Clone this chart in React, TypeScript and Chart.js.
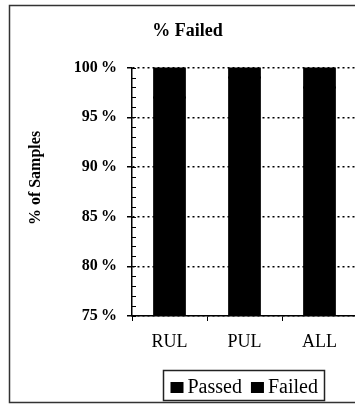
import React, { useEffect, useRef } from "react";
import { Chart, registerables } from "chart.js";

Chart.register(...registerables);

// Chart content
const chartTitle = "% Failed";
const yAxisTitle = "% of Samples";
const categories = ["RUL", "PUL", "ALL"];
const passedValues = [97, 99, 98];
const failedValues = [3, 1, 2];
const yTickValues = [75, 80, 85, 90, 95, 100];
const seriesNames = ["Passed", "Failed"];

const SERIF = '"Liberation Serif", "Times New Roman", Times, serif';
const CANVAS_W = 372;
const CANVAS_H = 406;

// Frame, minor ticks, rotated axis title and a boxed legend
const decorations = {
  id: "decorations",
  afterDraw(chart: any) {
    const { ctx, chartArea, scales } = chart;
    const y = scales.y;
    ctx.save();

    // outer frame
    ctx.strokeStyle = "#333";
    ctx.lineWidth = 1.5;
    ctx.beginPath();
    ctx.moveTo(CANVAS_W, 5.5);
    ctx.lineTo(9.5, 5.5);
    ctx.lineTo(9.5, 402.5);
    ctx.lineTo(CANVAS_W, 402.5);
    ctx.stroke();

    // minor ticks every 1% on the inside of the value axis
    ctx.strokeStyle = "#000";
    ctx.lineWidth = 1;
    ctx.beginPath();
    for (let v = y.min; v <= y.max; v += 1) {
      const py = Math.round(y.getPixelForValue(v)) + 0.5;
      ctx.moveTo(chartArea.left, py);
      ctx.lineTo(chartArea.left + 4, py);
    }
    ctx.stroke();

    // value axis title
    ctx.save();
    ctx.translate(36, 178);
    ctx.rotate(-Math.PI / 2);
    ctx.fillStyle = "#000";
    ctx.font = `bold 16px ${SERIF}`;
    ctx.textAlign = "center";
    ctx.textBaseline = "middle";
    ctx.fillText(yAxisTitle, 0, 0);
    ctx.restore();

    // legend
    ctx.font = `20px ${SERIF}`;
    const sw = 13;
    const swGap = 4;
    const itemGap = 9;
    const pad = 7;
    const items = chart.data.datasets.map((ds: any) => ({
      label: ds.label as string,
      color: ds.backgroundColor as string,
      w: sw + swGap + ctx.measureText(ds.label).width,
    }));
    const inner = items.reduce((a: number, it: any) => a + it.w, 0) + itemGap * (items.length - 1);
    const cx = (chartArea.left + chartArea.right) / 2 - 1;
    const boxL = Math.round(cx - inner / 2 - pad) + 0.5;
    const boxW = Math.round(inner + pad * 2);
    ctx.strokeStyle = "#222";
    ctx.lineWidth = 1.5;
    ctx.strokeRect(boxL, 370.5, boxW, 30);
    let x = boxL + pad;
    ctx.textAlign = "left";
    ctx.textBaseline = "alphabetic";
    for (const it of items) {
      ctx.fillStyle = it.color;
      ctx.fillRect(x, 382, sw, 11);
      ctx.fillStyle = "#000";
      ctx.fillText(it.label, x + sw + swGap, 393);
      x += it.w + itemGap;
    }
    ctx.restore();
  },
};

export default function App() {
  const canvasRef = useRef<HTMLCanvasElement | null>(null);

  useEffect(() => {
    if (!canvasRef.current) return;
    const barStyle = {
      backgroundColor: "#000",
      borderWidth: 0,
      inflateAmount: 1,
      barPercentage: 0.41,
      categoryPercentage: 1,
    };
    const chart = new Chart(canvasRef.current, {
      type: "bar",
      data: {
        labels: categories,
        datasets: [
          { label: seriesNames[0], data: passedValues, ...barStyle },
          { label: seriesNames[1], data: failedValues, ...barStyle },
        ],
      },
      options: {
        animation: false,
        responsive: false,
        maintainAspectRatio: false,
        layout: { padding: { left: 18, right: CANVAS_W - 357, top: 0, bottom: CANVAS_H - 316 - 37 } },
        plugins: {
          legend: { display: false },
          tooltip: { enabled: false },
          title: {
            display: true,
            text: chartTitle,
            color: "#000",
            font: { family: SERIF, size: 18, weight: "bold" },
            padding: { top: 21, bottom: 25 },
          },
        },
        scales: {
          x: {
            stacked: true,
            offset: true,
            grid: {
              display: true,
              drawOnChartArea: false,
              drawTicks: true,
              tickLength: 5,
              color: "#000",
              offset: true,
            },
            border: { display: true, color: "#000", width: 1.5 },
            ticks: { color: "#000", font: { family: SERIF, size: 18 }, padding: 10 },
            afterFit: (s: any) => {
              s.height = 37;
            },
          },
          y: {
            stacked: true,
            min: yTickValues[0],
            max: yTickValues[yTickValues.length - 1],
            afterBuildTicks: (s: any) => {
              s.ticks = yTickValues.map((v) => ({ value: v }));
            },
            afterFit: (s: any) => {
              s.width = 114;
            },
            ticks: {
              color: "#000",
              font: { family: SERIF, size: 16, weight: "bold" },
              padding: 10,
              callback: (v: any) => `${v}\u2009%`,
            },
            grid: { color: "#000", lineWidth: 1.5, tickLength: 5, drawTicks: true },
            border: { display: true, color: "#000", width: 1.5, dash: [2, 3] },
          },
        },
      },
      plugins: [decorations],
    });
    return () => chart.destroy();
  }, []);

  return (
    <div
      style={{
        position: "absolute",
        left: 0,
        top: 0,
        width: 355,
        height: 406,
        overflow: "hidden",
        background: "#fff",
      }}
    >
      <canvas
        ref={canvasRef}
        width={CANVAS_W}
        height={CANVAS_H}
        style={{ width: CANVAS_W, height: CANVAS_H, display: "block" }}
      />
    </div>
  );
}
